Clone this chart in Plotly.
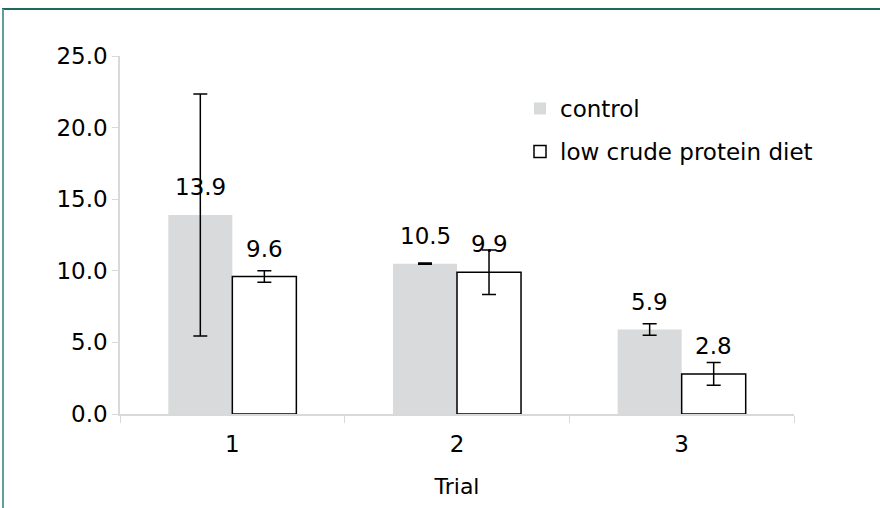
import plotly.graph_objects as go

trials = ["1", "2", "3"]
control = [13.9, 10.5, 5.9]
control_err = [8.45, 0.05, 0.4]
low_cp = [9.6, 9.9, 2.8]
low_cp_err = [0.4, 1.55, 0.8]
y_ticks = [0, 5, 10, 15, 20, 25]
y_tick_labels = ["0.0", "5.0", "10.0", "15.0", "20.0", "25.0"]

FONT = "DejaVu Sans"
FS = 23
fig = go.Figure()
fig.add_trace(go.Bar(
    x=trials, y=control, name="control",
    marker=dict(color="#d9dadb", line=dict(width=0)),
    error_y=dict(type="data", array=control_err, visible=True,
                 color="black", thickness=1.5, width=7),
    legend="legend", showlegend=True,
))
fig.add_trace(go.Bar(
    x=trials, y=low_cp, name="low crude protein diet",
    marker=dict(color="white", line=dict(color="black", width=1.5)),
    error_y=dict(type="data", array=low_cp_err, visible=True,
                 color="black", thickness=1.5, width=7),
    legend="legend2", showlegend=True,
))

annotations = []
for i, t in enumerate(trials):
    annotations.append(dict(x=i, y=control[i], xref="x", yref="y",
                            text=f"{control[i]:.1f}", showarrow=False,
                            xshift=-32, yshift=13, yanchor="bottom",
                            font=dict(family=FONT, size=FS, color="black")))
    annotations.append(dict(x=i, y=low_cp[i], xref="x", yref="y",
                            text=f"{low_cp[i]:.1f}", showarrow=False,
                            xshift=32, yshift=13, yanchor="bottom",
                            font=dict(family=FONT, size=FS, color="black")))

L, R, T, B = 120, 86, 56, 94
pw, ph = 880 - L - R, 508 - T - B

def px_x(px):
    return (px - L) / pw

def px_y(py):
    return (508 - B - py) / ph

shapes = [
    dict(type="line", xref="paper", yref="paper",
         x0=px_x(2), x1=px_x(880), y0=px_y(9), y1=px_y(9),
         line=dict(color="#1e6a60", width=2)),
    dict(type="line", xref="paper", yref="paper",
         x0=px_x(3), x1=px_x(3), y0=px_y(9), y1=px_y(508),
         line=dict(color="#5f9ea0", width=2)),
]

fig.update_layout(
    width=880, height=508,
    margin=dict(l=L, r=R, t=T, b=B),
    paper_bgcolor="white", plot_bgcolor="white",
    barmode="group", bargap=0.43, bargroupgap=0,
    font=dict(family=FONT, size=FS, color="black"),
    annotations=annotations,
    shapes=shapes,
    legend=dict(x=px_x(520), y=px_y(87), xanchor="left", yanchor="top",
                font=dict(family=FONT, size=FS), bgcolor="rgba(0,0,0,0)"),
    legend2=dict(x=px_x(520), y=px_y(130), xanchor="left", yanchor="top",
                 font=dict(family=FONT, size=FS), bgcolor="rgba(0,0,0,0)"),
    xaxis=dict(
        title=dict(text="Trial", font=dict(family=FONT, size=22), standoff=22),
        showline=True, linecolor="#d9d9d9", linewidth=1.5,
        ticks="outside", tickson="boundaries", ticklen=7, tickcolor="#d9d9d9",
        tickfont=dict(family=FONT, size=FS), showgrid=False,
        ticklabelstandoff=9,
    ),
    yaxis=dict(
        range=[0, 25], tickvals=y_ticks, ticktext=y_tick_labels,
        showline=True, linecolor="#d9d9d9", linewidth=1.5,
        ticks="outside", ticklen=6, tickcolor="#d9d9d9",
        tickfont=dict(family=FONT, size=FS), showgrid=False, zeroline=False,
    ),
)

fig.write_html("out.html")
